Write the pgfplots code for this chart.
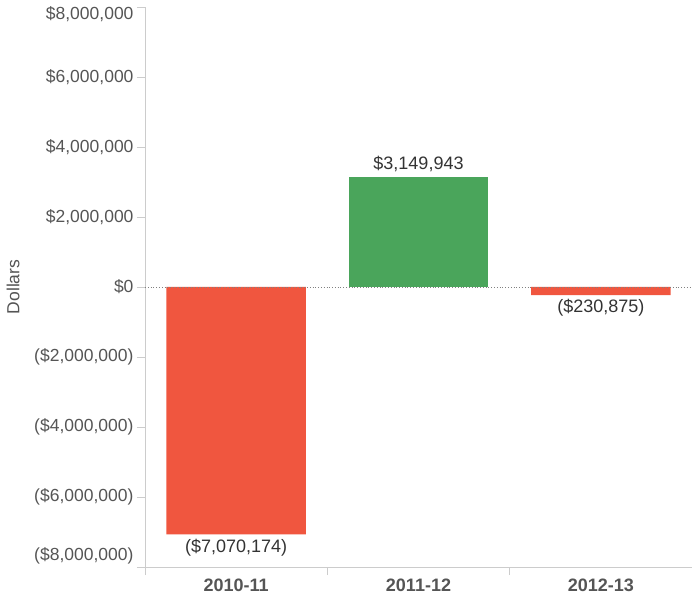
\documentclass[border=0pt]{standalone}
\usepackage{pgfplots}
\pgfplotsset{compat=1.18}
\usepackage{fontspec}
\setmainfont{Liberation Sans}
\definecolor{barred}{HTML}{F0563F}
\definecolor{bargreen}{HTML}{4AA55B}
\definecolor{axgray}{HTML}{CCCCCC}
\definecolor{txtgray}{HTML}{555555}
\definecolor{valtxt}{HTML}{333333}
\begin{document}
\begin{tikzpicture}
\useasboundingbox (-145bp,-30bp) rectangle (547bp,567bp);
\begin{axis}[
  scale only axis,
  width=547bp, height=560bp,
  xmin=-0.5, xmax=2.5,
  ymin=-8000000, ymax=8000000,
  scaled y ticks=false,
  axis lines*=left,
  axis line style={axgray, line width=0.8bp},
  tick align=outside,
  tick style={axgray, line width=0.8bp},
  major tick length=8bp,
  ybar, bar shift=0pt, bar width=0.765,
  ytick={-8000000,-6000000,-4000000,-2000000,0,2000000,4000000,6000000,8000000},
  yticklabels={{\raisebox{11bp}[\height][\depth]{(\$8,000,000)}},{(\$6,000,000)},{(\$4,000,000)},{(\$2,000,000)},{\$0},{\$2,000,000},{\$4,000,000},{\$6,000,000},{\raisebox{-7bp}[\height][\depth]{\$8,000,000}}},
  yticklabel style={font=\fontsize{17.5bp}{19bp}\selectfont, text=txtgray, xshift=0bp},
  xtick={-0.5,0.5,1.5},
  xticklabels={},
  extra x ticks={0,1,2},
  extra x tick labels={2010-11,2011-12,2012-13},
  extra x tick style={major tick length=0pt, xticklabel style={font=\fontsize{18bp}{20bp}\selectfont\bfseries, text=txtgray, yshift=-8bp}},
  ylabel={Dollars},
  ylabel style={at={(axis description cs:-0.2413,0.5)}, anchor=center, font=\fontsize{17.5bp}{19bp}\selectfont, text=txtgray},
  point meta=explicit symbolic,
  every node near coord/.append style={font=\fontsize{18bp}{20bp}\selectfont, text=valtxt},
  clip=false,
]
\addplot[draw=none, fill=barred, nodes near coords, every node near coord/.append style={anchor=north, yshift=-1bp}] coordinates {(0,-7070174) [{(\$7,070,174)}] (2,-230875) [{(\$230,875)}]};
\addplot[draw=none, fill=bargreen, nodes near coords, every node near coord/.append style={anchor=south, yshift=1bp}] coordinates {(1,3149943) [{\$3,149,943}]};
\addplot[ybar=false, sharp plot, gray, dotted, line width=0.8bp, forget plot] coordinates {(-0.5,0) (2.5,0)};
\end{axis}
\end{tikzpicture}
\end{document}
